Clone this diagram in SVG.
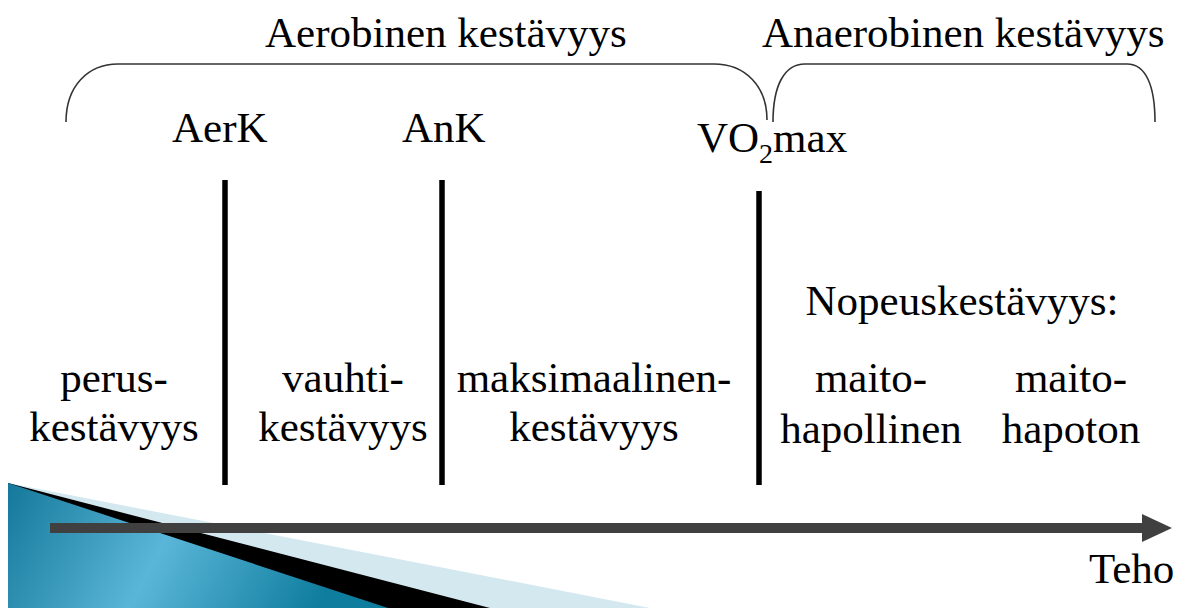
<svg xmlns="http://www.w3.org/2000/svg" width="1177" height="608" viewBox="0 0 1177 608">
<style>
text{font-family:"Liberation Serif","Times New Roman",serif;font-size:43px;fill:#000}
.c{text-anchor:middle}
.brace{fill:none;stroke:#333;stroke-width:1.6}
.bar{stroke:#000;stroke-width:5.5}
</style>
<defs>
<linearGradient id="blueG" x1="8" y1="483" x2="300" y2="640" gradientUnits="userSpaceOnUse">
<stop offset="0" stop-color="#14789a"/>
<stop offset="0.5" stop-color="#5ab6d8"/>
<stop offset="1" stop-color="#0f7d9e"/>
</linearGradient>
</defs>
<g id="decoration">
<polygon points="8,483 650,608 8,608" fill="#d4e8f0"/>
<polygon points="8,483 490,608 8,608" fill="#000"/>
<polygon points="8,483 388,608 8,608" fill="url(#blueG)"/>
</g>
<g id="connectors">
<path class="brace" d="M66,122 C66,86 88,64 118,64 L714,64 C745,64 767,86 767,120"/>
<path class="brace" d="M773,122 C773,86 784,64 805,64 L1127,64 C1146,64 1155,86 1155,122"/>
<line class="bar" x1="225" y1="180" x2="225" y2="485"/>
<line class="bar" x1="442" y1="180" x2="442" y2="485"/>
<line class="bar" x1="759" y1="191" x2="759" y2="485"/>
<line x1="50" y1="528" x2="1144" y2="528" stroke="#404040" stroke-width="10"/>
<polygon points="1142,514 1172,528 1142,542" fill="#404040"/>
</g>
<g id="headers">
<text x="265" y="47">Aerobinen kestävyys</text>
<text x="762" y="47">Anaerobinen kestävyys</text>
</g>
<g id="thresholds">
<text x="172" y="142">AerK</text>
<text x="402" y="142">AnK</text>
<text x="697" y="152">VO<tspan font-size="28" dy="11">2</tspan><tspan dy="-11">max</tspan></text>
</g>
<g id="zone-perus">
<text class="c" x="114" y="392">perus-</text>
<text class="c" x="114" y="441">kestävyys</text>
</g>
<g id="zone-vauhti">
<text class="c" x="343" y="392">vauhti-</text>
<text class="c" x="343" y="441">kestävyys</text>
</g>
<g id="zone-maksimaalinen">
<text class="c" x="594" y="392">maksimaalinen-</text>
<text class="c" x="594" y="441">kestävyys</text>
</g>
<g id="zone-nopeus">
<text class="c" x="962" y="315">Nopeuskestävyys:</text>
<text class="c" x="871" y="392">maito-</text>
<text class="c" x="871" y="443">hapollinen</text>
<text class="c" x="1071" y="392">maito-</text>
<text class="c" x="1071" y="443">hapoton</text>
</g>
<g id="axis-label">
<text x="1089" y="583" fill="#222">Teho</text>
</g>
</svg>
